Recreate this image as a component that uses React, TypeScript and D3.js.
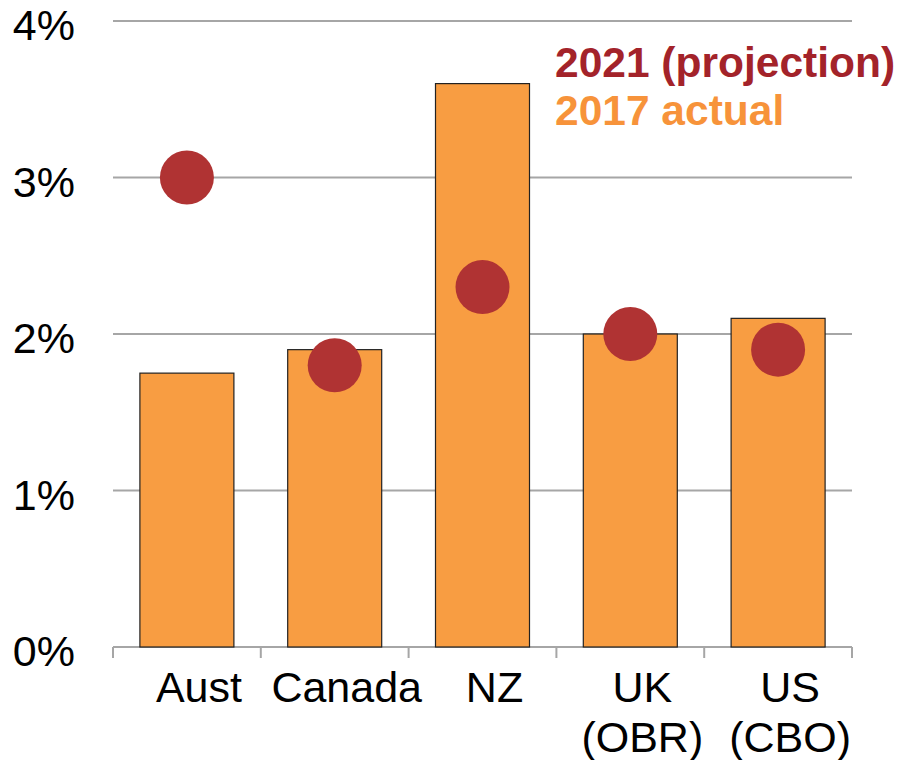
import React from "react";
import * as d3 from "d3";

const categories: string[][] = [["Aust"], ["Canada"], ["NZ"], ["UK", "(OBR)"], ["US", "(CBO)"]];
const actual2017: number[] = [1.75, 1.9, 3.6, 2.0, 2.1];
const projection2021: number[] = [3.0, 1.8, 2.3, 2.0, 1.9];
const yTicks: number[] = [0, 1, 2, 3, 4];
const legendLabels: string[] = ["2021 (projection)", "2017 actual"];

const W = 897;
const H = 760;
const left = 113;
const right = 852;
const top = 21;
const bottom = 647;

export default function App() {
  const x = d3
    .scaleBand<number>()
    .domain(categories.map((_, i) => i))
    .range([left, right])
    .paddingInner(0.364)
    .paddingOuter(0.182);
  const y = d3.scaleLinear().domain([0, 4]).range([bottom, top]);
  const step = (right - left) / categories.length;
  const font = "'Liberation Sans', Arial, sans-serif";

  return (
    <svg width={W} height={H} style={{ position: "absolute", left: 0, top: 0 }}>
      <rect width={W} height={H} fill="#fff" />
      {yTicks.map((t) => (
        <g key={t}>
          <line x1={left} x2={right} y1={y(t)} y2={y(t)} stroke="#a6a6a6" strokeWidth={2} />
          <text x={75} y={y(t) + 19} textAnchor="end" fontFamily={font} fontSize={43} fill="#000">
            {t}%
          </text>
        </g>
      ))}
      {d3.range(categories.length + 1).map((i) => (
        <line
          key={i}
          x1={left + i * step}
          x2={left + i * step}
          y1={bottom}
          y2={bottom + 11}
          stroke="#a6a6a6"
          strokeWidth={2}
        />
      ))}
      {actual2017.map((v, i) => (
        <rect
          key={i}
          x={x(i)!}
          y={y(v)}
          width={x.bandwidth()}
          height={y(0) - y(v)}
          fill="#f89d42"
          stroke="#222"
          strokeWidth={1.2}
        />
      ))}
      {projection2021.map((v, i) => (
        <circle key={i} cx={x(i)! + x.bandwidth() / 2} cy={y(v)} r={27} fill="#b03333" />
      ))}
      {categories.map((lines, i) =>
        lines.map((s, j) => (
          <text
            key={i + "-" + j}
            x={x(i)! + x.bandwidth() / 2 + 12}
            y={702 + j * 50}
            textAnchor="middle"
            fontFamily={font}
            fontSize={43}
            fill="#000"
          >
            {s}
          </text>
        ))
      )}
      <text x={555} y={77} fontFamily={font} fontSize={42.5} fontWeight="bold" fill="#a3232a">
        {legendLabels[0]}
      </text>
      <text x={555} y={125} fontFamily={font} fontSize={42.5} fontWeight="bold" fill="#f7933a">
        {legendLabels[1]}
      </text>
    </svg>
  );
}
